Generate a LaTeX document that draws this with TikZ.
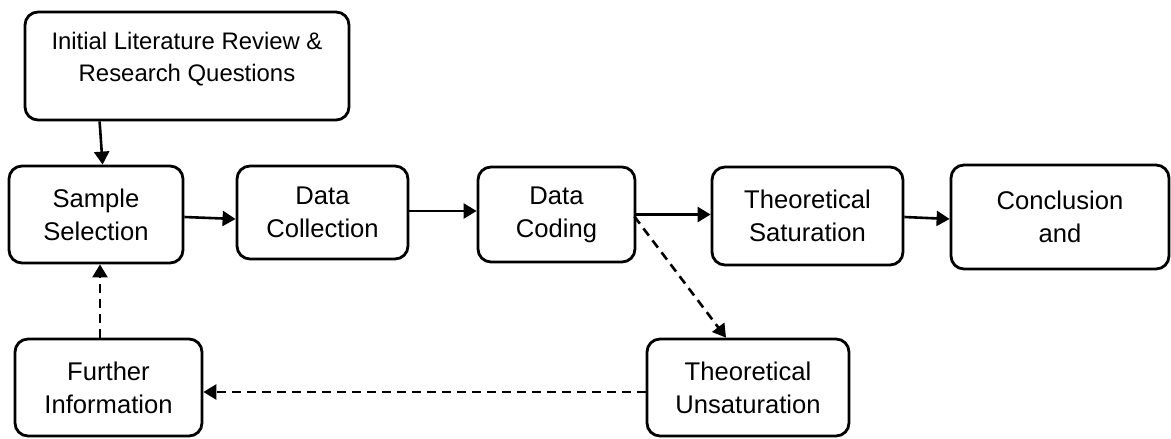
\documentclass[tikz,border=0pt]{standalone}
\usepackage{fontspec}
\setmainfont{Liberation Sans}
\usetikzlibrary{arrows.meta}

\tikzset{
  stepbox/.style={draw, line width=2.8pt, rounded corners=13pt, align=center,
    inner sep=0pt, font=\fontsize{25.6}{33}\selectfont},
  flow/.style={line width=2.6pt, -{Triangle[length=13pt,width=15pt]}},
  back/.style={flow, dash pattern=on 9pt off 6pt}
}

\begin{document}
\begin{tikzpicture}[x=1pt,y=-1pt]
                        \useasboundingbox (0,0) rectangle (1171,439);

                        % Drawing box of the first review
                        \node (init) [stepbox, minimum width=324, minimum height=108] at (187,66) {};%
                        \node (initText) [align=center, font=\fontsize{23.9}{32.5}\selectfont] at (187,59) {Initial Literature Review \&\\Research Questions};%

                        % Drawing boxes of the main row
                        \node (sample) [stepbox, minimum width=174, minimum height=97] at (96,214.5) {Sample\\Selection};%
                        \node (collect) [stepbox, minimum width=171, minimum height=93] at (322.5,212.5) {Data\\Collection};%
                        \node (coding) [stepbox, minimum width=157, minimum height=95] at (556.5,214.5) {Data\\Coding};%
                        \node (satur) [stepbox, minimum width=191, minimum height=98] at (807.5,216) {Theoretical\\Saturation};%
                        \node (concl) [stepbox, minimum width=218, minimum height=104] at (1060,217) {Conclusion\\and};%

                        % Drawing boxes of the lower row
                        \node (further) [stepbox, minimum width=187, minimum height=97] at (108.5,387.5) {Further\\Information};%
                        \node (unsat) [stepbox, minimum width=202, minimum height=97] at (748,387.5) {Theoretical\\Unsaturation};%

                        % Drawing solid arrows
                        \draw [flow] ([xshift=76pt]init.south west) -- ([xshift=95pt]sample.north west);%
                        \draw [flow] ([yshift=-2.5pt]sample.east) -- ([yshift=-6.5pt]collect.west);%
                        \draw [flow] ([yshift=1.5pt]collect.east) -- ([yshift=3.5pt]coding.west);%
                        \draw [flow] (coding.east) -- (coding.east -| satur.west);%
                        \draw [flow] ([yshift=-1pt]satur.east) -- ([yshift=-2pt]concl.west);%

                        % Drawing dashed arrows of the loop
                        \draw [back] ([xshift=-2pt,yshift=-2pt]coding.east) -- ([xshift=-22pt]unsat.north);%
                        \draw [back] ([yshift=-4.5pt]unsat.west) -- ([yshift=-4.5pt]further.east);%
                        \draw [back] ([xshift=-8.5pt]further.north) -- ([xshift=4pt]sample.south);%
                    \end{tikzpicture}
\end{document}
